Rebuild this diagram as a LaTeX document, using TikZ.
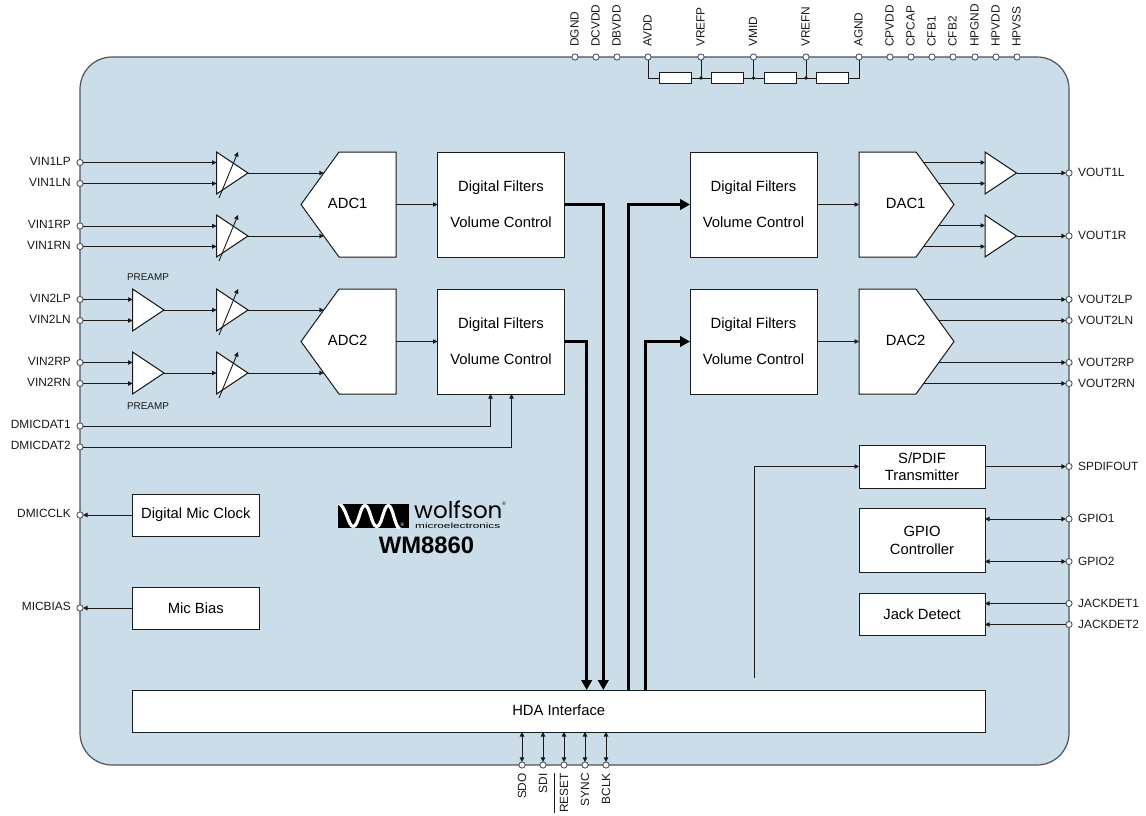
\documentclass[tikz,border=0pt]{standalone}
\usepackage{fontspec}
\setmainfont{Liberation Sans}
\newfontfamily\logofont{Poppins}
\usetikzlibrary{arrows.meta}
\definecolor{chipblue}{HTML}{CBDDE9}
\definecolor{ink}{HTML}{1A1A1A}
\definecolor{edge}{HTML}{505458}
\newcommand{\fs}[2]{\fontsize{#1}{#2}\selectfont}
\tikzset{
  x=1pt,y=-1pt,
  chip/.style={draw=edge,line width=1.2pt,fill=chipblue,rounded corners=32pt},
  pinnode/.style={circle,draw=edge,fill=white,line width=0.9pt,minimum size=6.2pt,inner sep=0pt,outer sep=0pt},
  pinlabel/.style={inner sep=0pt,font=\fs{11.9}{14},text=ink},
  smalllabel/.style={inner sep=0pt,font=\fs{9.9}{12},text=ink},
  block/.style={draw=ink,fill=white,line width=1pt,inner sep=0pt,outer sep=0pt,align=center,font=\fs{14.8}{17.3},text=black},
  dfblock/.style={block,minimum width=127pt,minimum height=105pt,font=\fs{14.8}{36}},
  shapeline/.style={draw=ink,fill=white,line width=1pt,line join=miter},
  blocklabel/.style={inner sep=0pt,font=\fs{14.8}{17},text=black},
  wire/.style={draw=ink,line width=0.9pt},
  sig/.style={wire,-{Triangle[length=4.5pt,width=4.5pt]}},
  sigboth/.style={wire,{Triangle[length=4.5pt,width=4.5pt]}-{Triangle[length=4.5pt,width=4.5pt]}},
  bus/.style={draw=black,line width=3pt,line join=miter,-{Triangle[length=10pt,width=10.5pt]}},
}
% pin helpers: name, position, text
\newcommand{\pinL}[3]{\node[pinnode] (#1) at (80,#2) {};\node[pinlabel,anchor=east] (#1t) at (71,#2-1.3) {#3};}
\newcommand{\pinR}[3]{\node[pinnode] (#1) at (1069,#2) {};\node[pinlabel,anchor=west] (#1t) at (1078,#2-0.5) {#3};}
\newcommand{\pinT}[3]{\node[pinnode] (#1) at (#2,57) {};\node[pinlabel,rotate=90,anchor=west] (#1t) at (#2-0.5,47) {#3};}
\newcommand{\pinB}[3]{\node[pinnode] (#1) at (#2,765) {};\node[pinlabel,rotate=90,anchor=east] (#1t) at (#2,773) {#3};}
% triangle: name, left x, top y
\newcommand{\amp}[3]{%
  \draw[shapeline] (#2,#3) -- (#2+31.5,#3+21) -- (#2,#3+42) -- cycle;
  \coordinate (#1) at (#2,#3+21);
  \coordinate (#1o) at (#2+31.5,#3+21);}
% adjustable gain arrow over triangle
\newcommand{\pga}[3]{%
  \amp{#1}{#2}{#3}
  \coordinate (#1a) at (#2+2.5,#3+46);
  \coordinate (#1b) at (#2+21.5,#3);
  \draw[sig] (#1a) -- (#1b);}
% ADC polygon: name,top y,text
\newcommand{\adc}[3]{%
  \draw[shapeline] (339,#2) -- (396,#2) -- (396,#2+105) -- (339,#2+105) -- (301,#2+52.5) -- cycle;
  \node[blocklabel] (#1) at (347.7,#2+51.5) {#3};
  \coordinate (#1e) at (396,#2+52.5);
  \coordinate (#1i) at (323.8,#2+21);
  \coordinate (#1j) at (323.8,#2+84);}
\newcommand{\dac}[3]{%
  \draw[shapeline] (859,#2) -- (916,#2) -- (954,#2+52.5) -- (916,#2+105) -- (859,#2+105) -- cycle;
  \node[blocklabel] (#1) at (905.7,#2+51.5) {#3};
  \coordinate (#1w) at (859,#2+52.5);
  \coordinate (#1p) at (923.6,#2+10.5);
  \coordinate (#1q) at (938.8,#2+31.5);
  \coordinate (#1r) at (938.8,#2+73.5);
  \coordinate (#1s) at (923.6,#2+94.5);}
\begin{document}
\begin{tikzpicture}
\useasboundingbox (0,0) rectangle (1146,816);
\path[chip] (80,57) rectangle (1069,765);

% ---------- pins
\pinT{dgnd}{575}{DGND}\pinT{dcvdd}{596}{DCVDD}\pinT{dbvdd}{617}{DBVDD}
\pinT{avdd}{648}{AVDD}\pinT{vrefp}{701}{VREFP}\pinT{vmid}{753.5}{VMID}
\pinT{vrefn}{806}{VREFN}\pinT{agnd}{859}{AGND}\pinT{cpvdd}{890}{CPVDD}
\pinT{cpcap}{911}{CPCAP}\pinT{cfba}{932}{CFB1}\pinT{cfbb}{953}{CFB2}
\pinT{hpgnd}{975}{HPGND}\pinT{hpvdd}{996}{HPVDD}\pinT{hpvss}{1017}{HPVSS}

\pinL{vinalp}{162.5}{VIN1LP}\pinL{vinaln}{183.5}{VIN1LN}
\pinL{vinarp}{226}{VIN1RP}\pinL{vinarn}{246.5}{VIN1RN}
\pinL{vinblp}{299.5}{VIN2LP}\pinL{vinbln}{320.5}{VIN2LN}
\pinL{vinbrp}{362.5}{VIN2RP}\pinL{vinbrn}{383.5}{VIN2RN}
\pinL{dmica}{426}{DMICDAT1}\pinL{dmicb}{447}{DMICDAT2}
\pinL{dmicclk}{515}{DMICCLK}\pinL{micbias}{608}{MICBIAS}

\pinR{voutal}{173}{VOUT1L}\pinR{voutar}{236}{VOUT1R}
\pinR{voutblp}{299.5}{VOUT2LP}\pinR{voutbln}{320.5}{VOUT2LN}
\pinR{voutbrp}{362.5}{VOUT2RP}\pinR{voutbrn}{383.5}{VOUT2RN}
\pinR{spdifout}{466.5}{SPDIFOUT}\pinR{gpioa}{519}{GPIO1}\pinR{gpiob}{561.5}{GPIO2}
\pinR{jacka}{603.5}{JACKDET1}\pinR{jackb}{624.5}{JACKDET2}

\pinB{sdo}{522}{SDO}\pinB{sdi}{543}{SDI}
\pinB{reset}{564}{\smash{\rlap{\raisebox{13.5pt}{\rule{39.5pt}{0.9pt}}}}RESET}
\pinB{sync}{585}{SYNC}\pinB{bclk}{606}{BCLK}

% ---------- reference resistor ladder
\coordinate (ladl) at (648,78);
\coordinate (ladr) at (859,78);
\coordinate (dota) at (701,78);
\coordinate (dotb) at (753.5,78);
\coordinate (dotc) at (806,78);
\draw[wire] (avdd) |- (ladr) -- (agnd);
\draw[wire] (vrefp) -- (dota);
\draw[wire] (vmid) -- (dotb);
\draw[wire] (vrefn) -- (dotc);
\foreach \c in {675,727,780,832.5}
  \node[draw=ink,fill=white,line width=0.9pt,minimum width=32pt,minimum height=11pt,inner sep=0pt] at (\c,78) {};
\foreach \d in {dota,dotb,dotc} \fill[ink] (\d) circle (1.8pt);

% ---------- amplifiers
\pga{pa}{216.5}{152}\pga{pb}{216.5}{215}\pga{pc}{216.5}{289}\pga{pd}{216.5}{352}
\amp{pre}{132.5}{289}\amp{prf}{132.5}{352}
\amp{oa}{985}{152}\amp{ob}{985}{215}
\node[smalllabel] (preamptop) at (148,277) {PREAMP};
\node[smalllabel] (preampbot) at (148,406) {PREAMP};

% ---------- converters and blocks
\adc{adca}{152}{ADC1}\adc{adcb}{289}{ADC2}
\dac{daca}{152}{DAC1}\dac{dacb}{289}{DAC2}
\node[dfblock] (dfa) at (501,204.5) {Digital Filters\\Volume Control};
\node[dfblock] (dfb) at (501,341.5) {Digital Filters\\Volume Control};
\node[dfblock] (dfc) at (753.5,204.5) {Digital Filters\\Volume Control};
\node[dfblock] (dfd) at (753.5,341.5) {Digital Filters\\Volume Control};
\node[block,minimum width=126.5pt,minimum height=42pt] (clk) at (195.75,515) {Digital Mic Clock};
\node[block,minimum width=126.5pt,minimum height=42pt] (bias) at (195.75,608) {Mic Bias};
\node[block,minimum width=126pt,minimum height=43pt] (spdif) at (922,466.5) {S/PDIF\\Transmitter};
\node[block,minimum width=126pt,minimum height=64pt] (gpio) at (922,540.5) {GPIO\\Controller};
\node[block,minimum width=126pt,minimum height=42pt] (jack) at (922,614.5) {Jack Detect};
\node[block,minimum width=852.5pt,minimum height=42pt] (hda) at (558.75,711) {\raisebox{1pt}{HDA Interface}};

% ---------- input wiring
\draw[sig] (vinalp) -- (vinalp -| pa);
\draw[sig] (vinaln) -- (vinaln -| pa);
\draw[sig] (vinarp) -- (vinarp -| pb);
\draw[sig] (vinarn) -- (vinarn -| pb);
\draw[sig] (vinblp) -- (vinblp -| pre);
\draw[sig] (vinbln) -- (vinbln -| pre);
\draw[sig] (vinbrp) -- (vinbrp -| prf);
\draw[sig] (vinbrn) -- (vinbrn -| prf);
\draw[sig] (preo) -- (pc);
\draw[sig] (prfo) -- (pd);
\draw[sig] (pao) -- (adcai);
\draw[sig] (pbo) -- (adcaj);
\draw[sig] (pco) -- (adcbi);
\draw[sig] (pdo) -- (adcbj);
\draw[sig] (adcae) -- (dfa.west);
\draw[sig] (adcbe) -- (dfb.west);
\coordinate (dmx) at (490.5,394);
\coordinate (dmy) at (511.5,394);
\draw[sig] (dmica) -| (dmx);
\draw[sig] (dmicb) -| (dmy);
\draw[sig] (clk.west) -- (dmicclk);
\draw[sig] (bias.west) -- (micbias);

% ---------- buses
\coordinate (busa) at (586.7,690);
\coordinate (busb) at (603.3,690);
\coordinate (busc) at (628.7,690);
\coordinate (busd) at (645.7,690);
\draw[bus] (dfb.east) -| (busa);
\draw[bus] (dfa.east) -| (busb);
\draw[bus] (busc) |- (dfc.west);
\draw[bus] (busd) |- (dfd.west);

% ---------- output wiring
\draw[sig] (dfc.east) -- (dacaw);
\draw[sig] (dfd.east) -- (dacbw);
\draw[sig] (dacap) -- (dacap -| oa);
\draw[sig] (dacaq) -- (dacaq -| oa);
\draw[sig] (dacar) -- (dacar -| ob);
\draw[sig] (dacas) -- (dacas -| ob);
\draw[sig] (oao) -- (voutal);
\draw[sig] (obo) -- (voutar);
\draw[sig] (dacbp) -- (voutblp);
\draw[sig] (dacbq) -- (voutbln);
\draw[sig] (dacbr) -- (voutbrp);
\draw[sig] (dacbs) -- (voutbrn);
\coordinate (spin) at (754.5,678);
\draw[sig] (spin) |- (spdif.west);
\draw[sig] (spdif.east) -- (spdifout);
\draw[sigboth] (gpioa -| gpio.east) -- (gpioa);
\draw[sigboth] (gpiob -| gpio.east) -- (gpiob);
\draw[sig] (jacka) -- (jacka -| jack.east);
\draw[sig] (jackb) -- (jackb -| jack.east);

% ---------- HDA control pins
\draw[sigboth] (hda.south -| sdo) -- (sdo);
\draw[sigboth] (hda.south -| sdi) -- (sdi);
\draw[sigboth] (hda.south -| reset) -- (reset);
\draw[sigboth] (hda.south -| sync) -- (sync);
\draw[sigboth] (hda.south -| bclk) -- (bclk);

% ---------- logo
\fill[black] (338,504) rectangle (409,528);
\begin{scope}
\clip (338,504) rectangle (409,528);
\draw[white,line width=3.2pt] (338,503) .. controls (346,505) and (348,526.5) .. (353.3,526.5)
  .. controls (358.5,526.5) and (360,505.5) .. (365,505.5)
  .. controls (370,505.5) and (371.5,526.5) .. (376.7,526.5)
  .. controls (382,526.5) and (383.5,505.5) .. (388.3,505.5)
  .. controls (393,505.5) and (394.5,527) .. (400,529);
\end{scope}
\node[inner sep=0pt,text=white,font=\fs{5}{6}] (regb) at (402.5,525) {®};
\node[inner sep=0pt,anchor=base west,font=\logofont\fs{23}{24},text=black] (wolf) at (414,518) {wolfson};
\node[inner sep=0pt,text=black,font=\fs{5}{6}] (rega) at (504,504) {®};
\node[inner sep=0pt,anchor=base west,font=\fs{7.5}{9},text=black] (micro) at (415,528) {\scalebox{1.57}[1]{microelectronics}};
\node[inner sep=0pt,font=\bfseries\fs{23.8}{26},text=black] (part) at (426.5,545) {WM8860};
\end{tikzpicture}
\end{document}
